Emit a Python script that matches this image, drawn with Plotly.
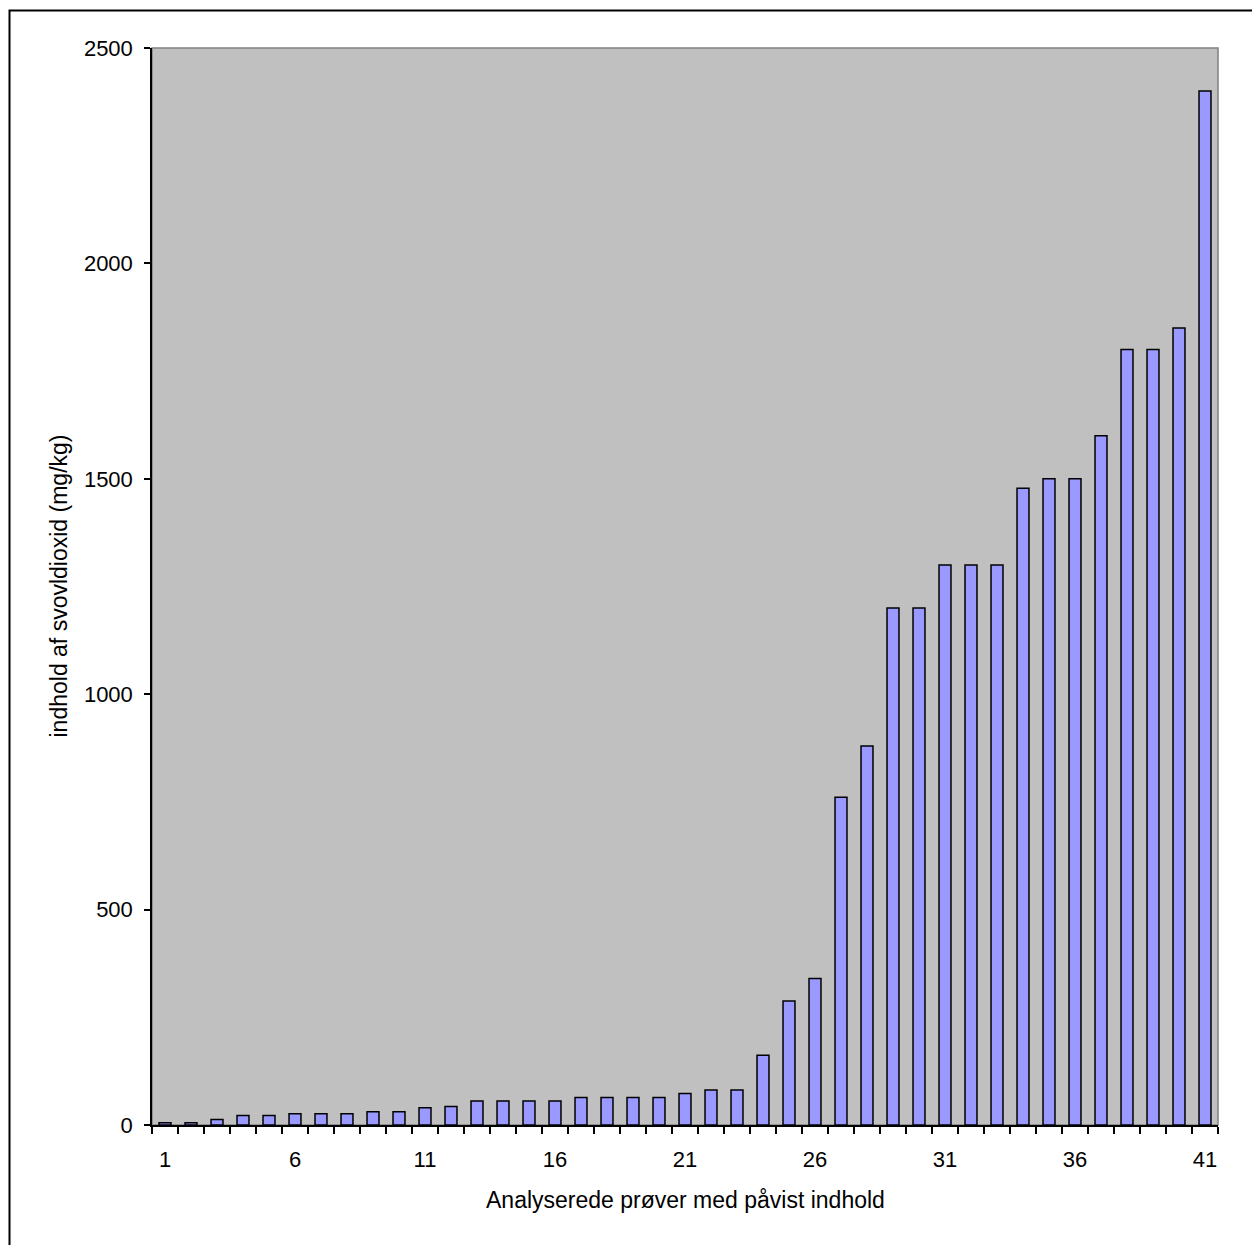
import plotly.graph_objects as go

samples = list(range(1, 42))
values = [5, 5, 13, 22, 22, 26, 26, 26, 31, 31,
          40, 43, 56, 56, 56, 56, 64, 64, 64, 64,
          73, 81, 81, 162, 288, 340, 761, 880, 1200, 1200,
          1300, 1300, 1300, 1478, 1500, 1500, 1600, 1800, 1800, 1850,
          2400]
x_ticks = [1, 6, 11, 16, 21, 26, 31, 36, 41]
y_ticks = [0, 500, 1000, 1500, 2000, 2500]
x_title = "Analyserede prøver med påvist indhold"
y_title = "indhold af svovldioxid (mg/kg)"

FONT = "Liberation Sans, Arial, sans-serif"
OFF = 8  # page body margin
W, H = 1260, 1245
# target pixel positions in the page
PL, PT, PR, PB = 152, 48, 1218, 1125
L, T = PL - OFF, PT - OFF
R, B = W - (PR - OFF), H - (PB - OFF)
pw, ph = W - L - R, H - T - B


def px_x(x):
    return (x - OFF - L) / pw


def px_y(y):
    return (H - B - (y - OFF)) / ph


fig = go.Figure()
fig.add_trace(go.Bar(
    x=samples, y=values,
    marker=dict(color="#9999FF", line=dict(color="black", width=1.5)),
    width=0.46,
    hoverinfo="x+y",
))

fig.update_layout(
    width=W, height=H,
    margin=dict(l=L, r=R, t=T, b=B, pad=0),
    paper_bgcolor="white",
    plot_bgcolor="#C0C0C0",
    showlegend=False,
    font=dict(family=FONT, size=22, color="black"),
    xaxis=dict(
        range=[0.5, 41.5],
        tickmode="array", tickvals=x_ticks, ticktext=[str(v) for v in x_ticks],
        ticks="", showgrid=False, zeroline=False,
        showline=True, linecolor="black", linewidth=1.5,
        ticklabelstandoff=14,
        minor=dict(tick0=0.5, dtick=1, ticks="outside", ticklen=7,
                   tickcolor="black", tickwidth=1.5, showgrid=False),
    ),
    yaxis=dict(
        range=[0, 2500],
        tickmode="array", tickvals=y_ticks,
        ticks="outside", ticklen=6, tickcolor="black", tickwidth=1.5,
        showgrid=False, zeroline=False,
        showline=True, linecolor="black", linewidth=1.5,
        ticklabelstandoff=7,
    ),
    shapes=[
        dict(type="rect", xref="paper", yref="paper", x0=0, x1=1, y0=0, y1=1,
             line=dict(color="#808080", width=1.5), layer="below"),
        dict(type="rect", xref="paper", yref="paper",
             x0=px_x(9.5), x1=1.2,
             y0=-0.3, y1=px_y(10.5),
             line=dict(color="black", width=2)),
    ],
    annotations=[
        dict(text=y_title, xref="paper", yref="paper",
             x=px_x(58), y=0.5, xanchor="center", yanchor="middle",
             textangle=-90, showarrow=False, font=dict(size=23)),
        dict(text=x_title, xref="paper", yref="paper",
             x=0.5, y=px_y(1200), xanchor="center", yanchor="middle",
             showarrow=False, font=dict(size=23)),
    ],
)

fig.write_html("out.html")
